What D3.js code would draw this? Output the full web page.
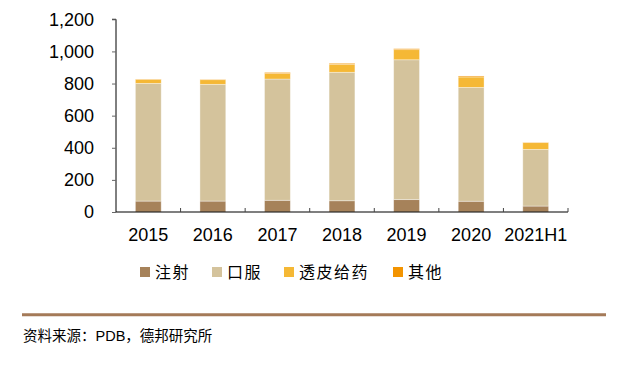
<!DOCTYPE html>
<html>
<head>
<meta charset="utf-8">
<script src="https://cdn.jsdelivr.net/npm/d3@7"></script>
<style>
  body { margin: 0; background: #fff; }
  svg { display: block; }
</style>
</head>
<body>
<script>
const years = ["2015", "2016", "2017", "2018", "2019", "2020", "2021H1"];
const injection = [68, 68, 73, 70, 77, 67, 37];
const oral = [733, 727, 755, 800, 871, 709, 353];
const transdermal = [25, 29, 34, 50, 63, 65, 42];
const other = [2, 2, 7, 6, 6, 6, 2];
const seriesNames = ["注射", "口服", "透皮给药", "其他"];
const yTicks = [0, 200, 400, 600, 800, 1000, 1200];

const colors = ["#A6825A", "#D4C39C", "#F5B835", "#F39400"];

const w = 628, h = 365;
const plotLeft = 116, plotRight = 568, plotTop = 19.3, plotBottom = 212;

const svg = d3.select("body").append("svg")
  .attr("width", w)
  .attr("height", h);

// build rows for stacking
const rows = years.map((y, i) => ({
  year: y,
  s0: injection[i],
  s1: oral[i],
  s2: transdermal[i],
  s3: other[i]
}));
const stack = d3.stack().keys(["s0", "s1", "s2", "s3"]);
const stacked = stack(rows);

const xScale = d3.scaleBand()
  .domain(years)
  .range([plotLeft, plotRight])
  .paddingInner(0.6)
  .paddingOuter(0.3);

const yScale = d3.scaleLinear()
  .domain([0, 1200])
  .range([plotBottom, plotTop]);

// bars
svg.selectAll("g.layer")
  .data(stacked)
  .enter()
  .append("g")
  .attr("class", "layer")
  .attr("fill", (d, i) => colors[i])
  .selectAll("rect")
  .data(d => d)
  .enter()
  .append("rect")
  .attr("x", d => xScale(d.data.year))
  .attr("y", d => yScale(d[1]))
  .attr("width", xScale.bandwidth())
  .attr("height", d => yScale(d[0]) - yScale(d[1]))
  .attr("stroke", "#fff")
  .attr("stroke-opacity", 0.45)
  .attr("stroke-width", 0.8);

// y axis
const yAxis = d3.axisLeft(yScale)
  .tickValues(yTicks)
  .tickSize(4)
  .tickPadding(18)
  .tickFormat(d3.format(","));

const yG = svg.append("g")
  .attr("transform", `translate(${plotLeft},0)`)
  .call(yAxis);
yG.select(".domain").attr("stroke", "#000").attr("d", `M-4,${plotTop}H0V${plotBottom}`);
yG.selectAll(".tick line").attr("stroke", "#666");
yG.selectAll("text")
  .style("font-family", "'Liberation Sans', Arial, sans-serif")
  .style("font-size", "18px")
  .attr("fill", "#000");

// x axis: ticks sit between categories
const xAxisG = svg.append("g")
  .attr("transform", `translate(0,${plotBottom})`);
xAxisG.append("line")
  .attr("x1", plotLeft).attr("x2", plotRight)
  .attr("y1", 0).attr("y2", 0)
  .attr("stroke", "#000")
  .attr("stroke-width", 1.2);
const step = (plotRight - plotLeft) / years.length;
xAxisG.selectAll("line.tk")
  .data(d3.range(1, years.length + 1))
  .enter()
  .append("line")
  .attr("class", "tk")
  .attr("x1", i => plotLeft + i * step)
  .attr("x2", i => plotLeft + i * step)
  .attr("y1", -4).attr("y2", 0)
  .attr("stroke", "#444");
xAxisG.selectAll("text")
  .data(years)
  .enter()
  .append("text")
  .attr("x", d => xScale(d) + xScale.bandwidth() / 2)
  .attr("y", 29)
  .attr("text-anchor", "middle")
  .style("font-family", "'Liberation Sans', Arial, sans-serif")
  .style("font-size", "18px")
  .text(d => d);

// legend
const legendX = [140, 212, 284, 393];
const legend = svg.append("g").attr("transform", "translate(0,267)");
seriesNames.forEach((name, i) => {
  legend.append("rect")
    .attr("x", legendX[i])
    .attr("y", 0)
    .attr("width", 10)
    .attr("height", 10)
    .attr("fill", colors[i]);
  legend.append("text")
    .attr("x", legendX[i] + 15)
    .attr("y", 11)
    .style("font-family", "'Noto Sans CJK SC', sans-serif")
    .style("font-size", "16px")
    .style("letter-spacing", "1.5px")
    .text(name);
});

// footer
svg.append("line")
  .attr("x1", 22).attr("x2", 606)
  .attr("y1", 314.7).attr("y2", 314.7)
  .attr("stroke", "#A47A58")
  .attr("stroke-width", 3);

svg.append("text")
  .attr("x", 23)
  .attr("y", 341)
  .style("font-family", "'Liberation Sans', 'Noto Sans CJK SC', sans-serif")
  .style("font-size", "14.5px")
  .text("资料来源：PDB，德邦研究所");
</script>
</body>
</html>
